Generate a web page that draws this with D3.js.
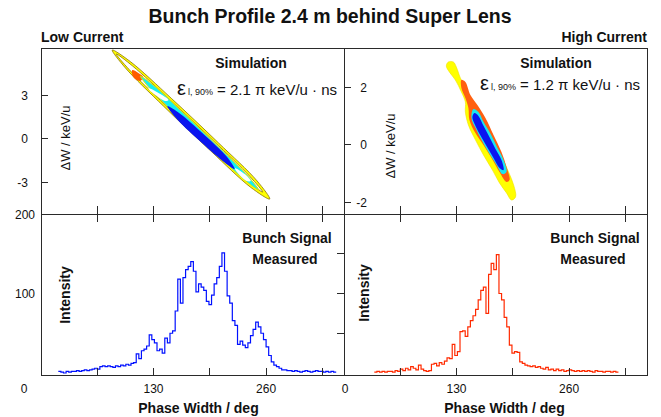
<!DOCTYPE html>
<html><head><meta charset="utf-8">
<script src="https://cdn.jsdelivr.net/npm/d3@7"></script>
<style>body{margin:0;background:#fff}svg{display:block;font-family:"Liberation Sans",Arial,sans-serif}</style>
</head><body><svg id="c" width="661" height="417"></svg>
<script>
// ---------- data ----------
const titleText = "Bunch Profile 2.4 m behind Super Lens";
const panelTitles = ["Low Current", "High Current"];
const emittanceValues = ["2.1", "1.2"];
const phaseDomain = [0, 350];
const phaseTicks = [65, 130, 195, 260, 325];
const phaseTickLabels = [130, 260];
const dWDomainLow = [-5.2, 6.24];
const dWDomainHigh = [-2.42, 3.4];
const dWTicksLow = [-3, 0, 3];
const dWTicksHigh = [-2, 0, 2];
const intensityDomain = [-2.5, 200];
const intensityTicks = [50, 100, 150];
const intensityTickLabels = [100, 200];

const binWidth = 3;
const lowStart = 20;
const lowIntensity = [2,1,0,2,1,2,2,3,2,3,4,3,4,5,6,5,8,9,8,9,8,7,9,8,10,9,11,10,12,13,
  24,18,28,30,34,48,42,38,28,30,25,44,38,50,53,78,118,88,120,130,134,140,128,102,112,108,104,90,86,98,
  112,120,134,151,128,97,88,66,60,36,40,35,32,38,47,55,64,58,50,42,33,22,14,10,8,6,4,4,3,3,
  2,3,2,1,2,3,2,1,2,3,2,2,1,2,1,2,1];
const highStart = 35;
const highIntensity = [1,2,1,2,1,2,2,1,3,2,5,3,6,4,8,6,4,10,5,3,2,3,11,12,9,13,11,15,19,18,
  36,22,27,52,53,46,58,66,72,80,92,104,108,75,124,138,130,149,100,92,70,58,35,25,27,26,14,12,10,9,
  8,9,7,8,6,5,7,4,5,3,5,3,4,2,3,4,3,2,3,2,3,2,3,2,1,3,2,2,1,2,2,1,2,1];

// phase-space contours (phase deg, dW keV/u)
const lowYellow = [[82.3,6.10],[103.7,5.28],[150.4,2.78],[205.0,-0.30],[249.6,-2.92],[264.2,-4.17],[242.4,-3.37],[196.2,-0.86],[141.6,2.23],[97.3,4.88]];
const lowInner = [[86.9,5.83],[105.8,5.00],[148.9,2.67],[199.7,-0.19],[241.2,-2.61],[256.1,-3.69],[237.2,-2.86],[194.1,-0.53],[143.4,2.32],[101.9,4.75]];
const lowOrange = [[105.5,4.72],[112.4,4.52],[118.2,4.24],[114.7,3.97],[108.9,4.10],[105.5,4.38]];
const lowCyan = [[114.7,4.31],[130.4,3.65],[165.1,1.72],[206.2,-0.64],[239.8,-2.64],[251.5,-3.55],[235.8,-2.89],[201.1,-0.96],[160.0,1.40],[126.4,3.40]];
const lowGapA = [[124.0,3.48],[137.9,3.07],[147.2,2.66],[143.7,2.59],[132.1,3.00],[125.2,3.34]];
const lowGapB = [[223.7,-2.03],[235.3,-2.45],[242.2,-2.93],[237.6,-2.93],[228.3,-2.45]];
const lowBlue = [[146.0,2.24],[159.9,1.75],[187.9,0.30],[214.4,-1.24],[223.7,-2.10],[209.8,-1.54],[181.8,-0.09],[155.3,1.45]];

const highYellow = [[120.5,2.91],[126.3,2.91],[129.8,2.73],[134.4,2.35],[142.5,1.86],[149.5,1.51],[156.5,1.16],[165.7,0.70],[175.0,0.11],[183.1,-0.46],[190.1,-0.95],[195.9,-1.40],[198.2,-1.82],[193.5,-1.93],[187.7,-1.68],[179.6,-1.33],[171.5,-0.88],[161.1,-0.35],[151.8,0.18],[143.7,0.70],[140.2,1.16],[140.2,1.51],[135.6,1.86],[128.6,2.28],[121.7,2.56],[118.2,2.77]];
const highOrange = [[135.6,2.28],[140.2,2.21],[146.0,1.75],[154.1,1.40],[163.4,0.95],[172.7,0.35],[181.9,-0.25],[187.7,-0.77],[191.2,-1.23],[187.7,-1.30],[179.6,-0.95],[170.4,-0.46],[161.1,0.00],[151.8,0.42],[144.9,0.88],[143.7,1.30],[140.2,1.65],[135.6,2.00]];
const highCyan = [[149.5,1.26],[155.3,1.16],[161.1,0.81],[169.2,0.39],[177.3,-0.11],[184.3,-0.53],[187.7,-0.95],[183.1,-1.02],[176.2,-0.70],[166.9,-0.25],[158.8,0.18],[151.8,0.60],[147.2,0.95]];
const highBlue = [[150.7,1.12],[155.3,1.02],[161.1,0.67],[168.0,0.28],[175.0,-0.14],[181.9,-0.53],[184.3,-0.88],[179.6,-0.81],[172.7,-0.46],[164.6,-0.04],[156.5,0.39],[150.7,0.74],[148.3,0.98]];

// ---------- layout ----------
const svg = d3.select("#c");
const top0 = 48, mid = 214, bot = 375;
const panels = [
  {x0: 41, x1: 344, dW: dWDomainLow, dWTicks: dWTicksLow, hist: lowIntensity, start: lowStart, color: "#0010ff",
   contours: [
     {pts: lowYellow, fill: "#ffff00", stroke: "#8a7400", sw: 0.8},
     {pts: lowInner, fill: "#ffffff", stroke: "#8a7400", sw: 0.8},
     {pts: lowOrange, fill: "#ff5a00", stroke: "none", sw: 0},
     {pts: lowCyan, fill: "#14f0f0", stroke: "#e8e000", sw: 1},
     {pts: lowGapA, fill: "#ffffff", stroke: "none", sw: 0},
     {pts: lowGapB, fill: "#ffffff", stroke: "none", sw: 0},
     {pts: lowBlue, fill: "#0a14f0", stroke: "none", sw: 0}
   ]},
  {x0: 344, x1: 647, dW: dWDomainHigh, dWTicks: dWTicksHigh, hist: highIntensity, start: highStart, color: "#ff2a00",
   contours: [
     {pts: highYellow, fill: "#ffff00", stroke: "#f0e000", sw: 0.6},
     {pts: highOrange, fill: "#ff6010", stroke: "none", sw: 0},
     {pts: highCyan, fill: "#19e6f0", stroke: "none", sw: 0},
     {pts: highBlue, fill: "#0a14f0", stroke: "none", sw: 0}
   ]}
];

const defs = svg.append("defs");
panels.forEach((p, i) => {
  p.x = d3.scaleLinear().domain(phaseDomain).range([p.x0, p.x1]);
  p.yT = d3.scaleLinear().domain(p.dW).range([mid, top0]);
  p.yB = d3.scaleLinear().domain(intensityDomain).range([bot, mid]);
  defs.append("clipPath").attr("id", "ct" + i).append("rect")
    .attr("x", p.x0).attr("y", top0).attr("width", p.x1 - p.x0).attr("height", mid - top0);
  defs.append("clipPath").attr("id", "cb" + i).append("rect")
    .attr("x", p.x0).attr("y", mid).attr("width", p.x1 - p.x0).attr("height", bot - mid);

  // contours
  const gC = svg.append("g").attr("clip-path", `url(#ct${i})`);
  const shape = d3.line().x(d => p.x(d[0])).y(d => p.yT(d[1])).curve(d3.curveCatmullRomClosed.alpha(0.5));
  p.contours.forEach(c => {
    gC.append("path").attr("d", shape(c.pts)).attr("fill", c.fill)
      .attr("stroke", c.stroke).attr("stroke-width", c.sw).attr("stroke-linejoin", "round");
  });

  // histogram
  const bins = p.hist.map((v, k) => [p.start + k * binWidth, v]);
  bins.push([p.start + p.hist.length * binWidth, p.hist[p.hist.length - 1]]);
  const step = d3.line().x(d => p.x(d[0])).y(d => p.yB(d[1])).curve(d3.curveStepAfter);
  svg.append("g").attr("clip-path", `url(#cb${i})`).append("path")
    .attr("d", step(bins)).attr("fill", "none").attr("stroke", p.color).attr("stroke-width", 1.2);
});

// ---------- frame & ticks ----------
const axisColor = "#2a2a2a";
const fr = svg.append("g").attr("stroke", axisColor).attr("stroke-width", 1).attr("fill", "none").attr("shape-rendering", "crispEdges");
fr.append("rect").attr("x", 41).attr("y", top0).attr("width", 647 - 41).attr("height", bot - top0);
fr.append("line").attr("x1", 344).attr("x2", 344).attr("y1", top0).attr("y2", bot);
fr.append("line").attr("x1", 41).attr("x2", 647).attr("y1", mid).attr("y2", mid);

panels.forEach((p, i) => {
  phaseTicks.forEach(t => {
    fr.append("line").attr("x1", p.x(t)).attr("x2", p.x(t)).attr("y1", mid - 8).attr("y2", mid + 8);
    fr.append("line").attr("x1", p.x(t)).attr("x2", p.x(t)).attr("y1", bot - 7).attr("y2", bot);
  });
  p.dWTicks.forEach(t => {
    fr.append("line").attr("x1", p.x0).attr("x2", p.x0 + 7).attr("y1", p.yT(t)).attr("y2", p.yT(t));
  });
});
intensityTicks.forEach(t => {
  const y = panels[0].yB(t);
  fr.append("line").attr("x1", 344 - 7).attr("x2", 344).attr("y1", y).attr("y2", y);
});

// ---------- text ----------
const txt = (x, y, s, opt = {}) => svg.append("text").attr("x", x).attr("y", y)
  .attr("text-anchor", opt.anchor || "start").attr("font-size", opt.size || 12)
  .attr("font-weight", opt.bold ? "bold" : "normal").attr("fill", "#111").text(s);

txt(330, 23, titleText, {anchor: "middle", size: 19.5, bold: true});
txt(41, 42, panelTitles[0], {size: 14, bold: true});
txt(647, 42, panelTitles[1], {anchor: "end", size: 14, bold: true});

dWTicksLow.forEach(t => txt(28, panels[0].yT(t) + 4.5, t, {anchor: "end", size: 12}));
dWTicksHigh.forEach(t => txt(367, panels[1].yT(t) + 4.5, t, {anchor: "end", size: 12}));

const simX = [251, 556];
const epsX = [177, 480];
const epsY = [95, 90];
panels.forEach((p, i) => {
  txt(simX[i], 68, "Simulation", {anchor: "middle", size: 14, bold: true});
  const e = svg.append("text").attr("x", epsX[i]).attr("y", epsY[i]).attr("fill", "#111").attr("font-size", 15);
  e.append("tspan").attr("font-size", 20).text("ε");
  e.append("tspan").attr("font-size", 9).attr("dx", 2).text("l, 90%");
  e.append("tspan").text(" =  " + emittanceValues[i] + " π keV/u · ns");

  const dwX = [70, 395][i], dwY = [138, 146][i];
  svg.append("text").attr("transform", `translate(${dwX},${dwY}) rotate(-90)`).attr("text-anchor", "middle")
    .attr("font-size", 13).attr("fill", "#111").text("ΔW / keV/u");
  const inX = [70, 369][i], inY = [295, 293][i];
  svg.append("text").attr("transform", `translate(${inX},${inY}) rotate(-90)`).attr("text-anchor", "middle")
    .attr("font-size", 14).attr("font-weight", "bold").attr("fill", "#111").text("Intensity");

  const bsX = [287, 595][i];
  txt(bsX, 243, "Bunch Signal", {anchor: "middle", size: 14, bold: true});
  txt(bsX - 2, 264, "Measured", {anchor: "middle", size: 14, bold: true});

  phaseTickLabels.forEach(t => txt(p.x(t), 393, t, {anchor: "middle", size: 12}));
  txt((p.x0 + p.x1) / 2 + [6, 9][i], 413, "Phase Width / deg", {anchor: "middle", size: 14, bold: true});
});
intensityTickLabels.forEach(t => txt(35, panels[0].yB(t) + 4.5, t, {anchor: "end", size: 12}));
txt(24, 393, 0, {anchor: "middle", size: 12});
txt(345, 393, 0, {anchor: "middle", size: 12});
</script></body></html>
